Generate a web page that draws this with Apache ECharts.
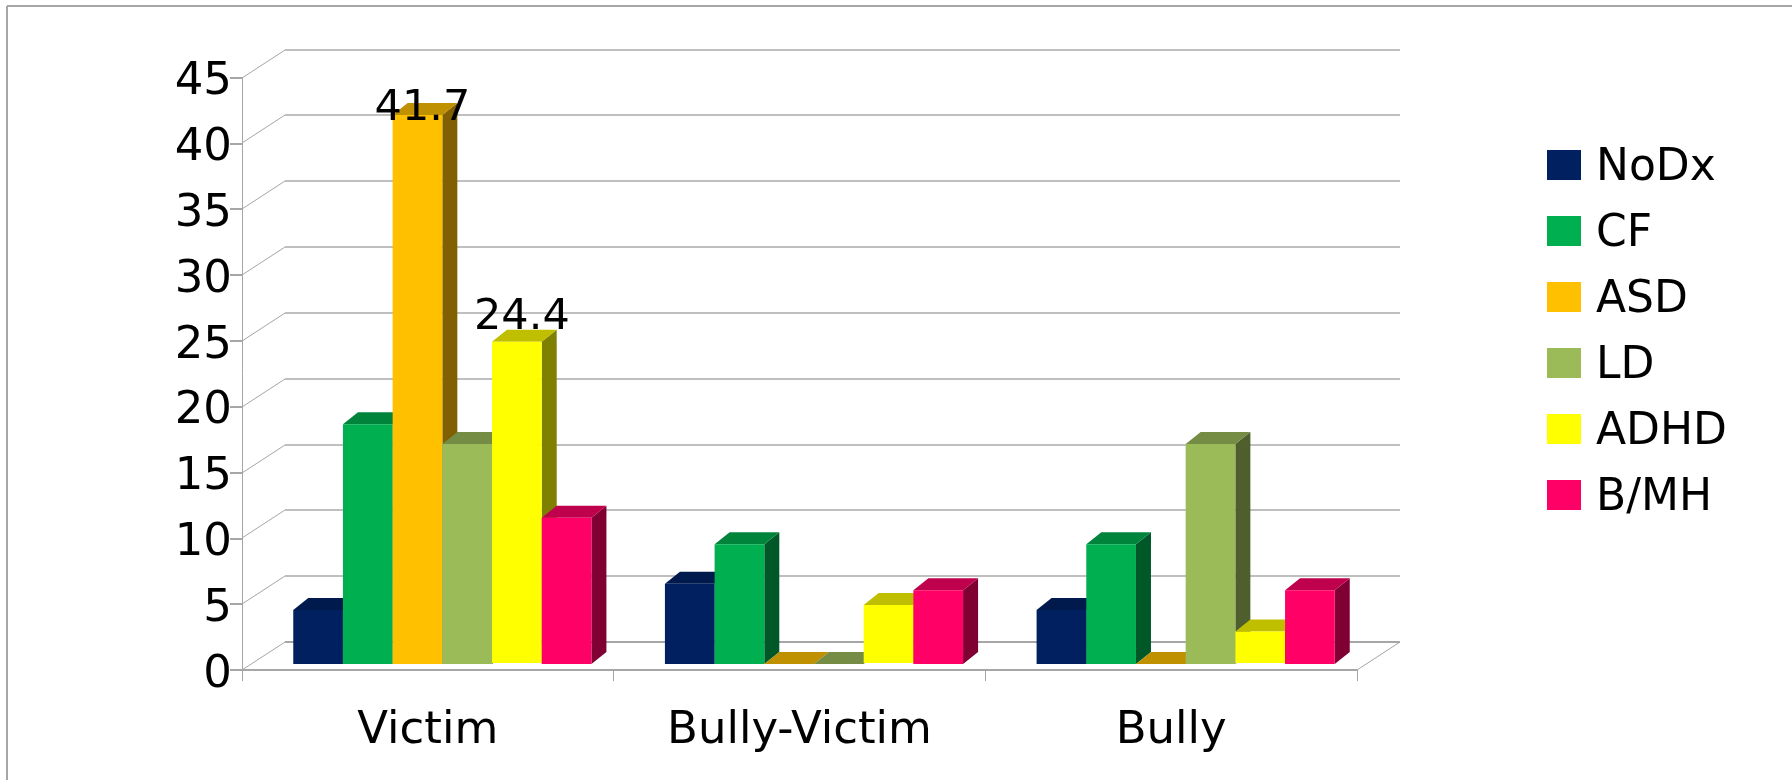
<!DOCTYPE html>
<html>
<head>
<meta charset="utf-8">
<style>html,body{margin:0;padding:0;background:#fff}#c{width:1792px;height:780px}</style>
<script src="https://cdn.jsdelivr.net/npm/echarts@6/dist/echarts.min.js"></script>
</head>
<body>
<div id="c"></div>
<script>
const categories = ['Victim', 'Bully-Victim', 'Bully'];
const NoDx = [4.1, 6.1, 4.1];
const CF   = [18.2, 9.1, 9.1];
const ASD  = [41.7, 0, 0];
const LD   = [16.7, 0, 16.7];
const ADHD = [24.4, 4.4, 2.4];
const BMH  = [11.1, 5.6, 5.6];
const yTicks = [0, 5, 10, 15, 20, 25, 30, 35, 40, 45];

const seriesDefs = [
  { name: 'NoDx', values: NoDx, front: '#002060', top: '#001A4D', side: '#001030' },
  { name: 'CF',   values: CF,   front: '#00B050', top: '#00843C', side: '#005828' },
  { name: 'ASD',  values: ASD,  front: '#FFC000', top: '#BF9000', side: '#806000' },
  { name: 'LD',   values: LD,   front: '#9BBB59', top: '#748C43', side: '#4E5E2D' },
  { name: 'ADHD', values: ADHD, front: '#FFFF00', top: '#BFBF00', side: '#808000', lift: 1 },
  { name: 'B/MH', values: BMH,  front: '#FF0066', top: '#BF004D', side: '#800033' }
];

// labelled bars: how far above the bar's front edge the label centre sits
const labelLift = { ASD: 6, ADHD: 24 };

const FONT = '"DejaVu Sans"';
const WALL = { dx: 43, dy: 28 };
const BAR_DEPTH = { dx: 15, dy: 12 };
const BASE = { dx: 14.5, dy: 6 };
const BAR_FRACTION = 0.1337;

function wallItem(params, api) {
  const v = api.value(1);
  const cs = params.coordSys;
  const y = Math.round(api.coord([0, v])[1]);
  const x0 = cs.x, x1 = cs.x + cs.width;
  const isFloor = v === 0;
  const back = isFloor ? '#a6a6a6' : '#bfbfbf';
  const children = [
    { type: 'line', shape: { x1: x0, y1: y, x2: x0 + WALL.dx, y2: y - WALL.dy },
      style: { stroke: '#a6a6a6', lineWidth: 1 } },
    { type: 'line', shape: { x1: x0 + WALL.dx, y1: y - WALL.dy, x2: x1 + WALL.dx, y2: y - WALL.dy },
      style: { stroke: back, lineWidth: 2 } }
  ];
  if (isFloor) {
    children.push({ type: 'line', shape: { x1: x1, y1: y, x2: x1 + WALL.dx, y2: y - WALL.dy },
      style: { stroke: '#a6a6a6', lineWidth: 1 } });
  }
  return { type: 'group', children };
}

function barRenderer(def, index) {
  return function (params, api) {
    const cat = api.value(0);
    const val = api.value(1);
    const band = api.size([1, 0])[0];
    const w = band * BAR_FRACTION;
    const cx = api.coord([cat, 0])[0];
    const x0 = cx + (index - 3) * w + BASE.dx;
    const x1 = x0 + w;
    const lift = def.lift || 0;
    const yb = api.coord([cat, 0])[1] - BASE.dy - lift;
    const yt = api.coord([cat, val])[1] - BASE.dy - lift;
    const dx = BAR_DEPTH.dx, dy = BAR_DEPTH.dy;
    const children = [
      { type: 'polygon', shape: { points: [[x1, yt], [x1 + dx, yt - dy], [x1 + dx, yb - dy], [x1, yb]] },
        style: { fill: def.side } },
      { type: 'polygon', shape: { points: [[x0, yt], [x0 + dx, yt - dy], [x1 + dx, yt - dy], [x1, yt]] },
        style: { fill: def.top } },
      { type: 'rect', shape: { x: x0, y: yt, width: w, height: yb - yt },
        style: { fill: def.front } }
    ];
    if (labelLift[def.name] !== undefined && val > 20) {
      children.push({ type: 'text', z2: 100,
        style: { text: String(val), x: x0 + w / 2 + 5, y: yt - labelLift[def.name],
          align: 'center', verticalAlign: 'middle',
          font: '43px ' + FONT, fill: '#000' } });
    }
    return { type: 'group', children };
  };
}

const chart = echarts.init(document.getElementById('c'));
chart.setOption({
  animation: false,
  backgroundColor: '#fff',
  grid: { left: 242, top: 77.5, width: 1115, height: 592.5, containLabel: false },
  graphic: [
    { type: 'line', shape: { x1: 7, y1: 6, x2: 1792, y2: 6 }, style: { stroke: '#a6a6a6', lineWidth: 2 } },
    { type: 'line', shape: { x1: 7, y1: 6, x2: 7, y2: 780 }, style: { stroke: '#a6a6a6', lineWidth: 2 } }
  ],
  legend: {
    left: 1547, top: 139, padding: 0, orient: 'vertical', icon: 'rect',
    itemWidth: 34, itemHeight: 30, itemGap: 14, itemStyle: { borderWidth: 0 },
    data: seriesDefs.map(d => d.name),
    formatter: '{t|{name}}',
    textStyle: {
      rich: { t: { fontFamily: FONT, fontSize: 44, color: '#000', lineHeight: 30, padding: [8, 0, 0, 10] } }
    },
    selectedMode: false
  },
  xAxis: {
    type: 'category', data: categories,
    axisLine: { lineStyle: { color: '#a6a6a6', width: 2 } },
    axisTick: { show: true, alignWithLabel: false, length: 11, lineStyle: { color: '#a6a6a6', width: 1 } },
    axisLabel: { fontFamily: FONT, fontSize: 45, color: '#000', margin: 39 },
    splitLine: { show: false }
  },
  yAxis: {
    type: 'value', min: 0, max: 45, interval: 5,
    axisLine: { show: true, lineStyle: { color: '#a6a6a6', width: 1 } },
    axisTick: { show: true, length: 12, lineStyle: { color: '#a6a6a6', width: 2 } },
    axisLabel: { fontFamily: FONT, fontSize: 45, color: '#000', margin: 10, verticalAlign: 'top', lineHeight: 10 },
    splitLine: { show: false }
  },
  series: [
    { type: 'custom', name: 'walls', silent: true, z: 1, renderItem: wallItem,
      data: yTicks.map(v => [0, v]), encode: { x: 0, y: 1 } }
  ].concat(seriesDefs.map((d, i) => ({
    type: 'custom', name: d.name, z: 2 + i, silent: true,
    itemStyle: { color: d.front },
    renderItem: barRenderer(d, i),
    data: d.values.map((v, c) => [c, v]),
    encode: { x: 0, y: 1 }
  })))
});
</script>
</body>
</html>
